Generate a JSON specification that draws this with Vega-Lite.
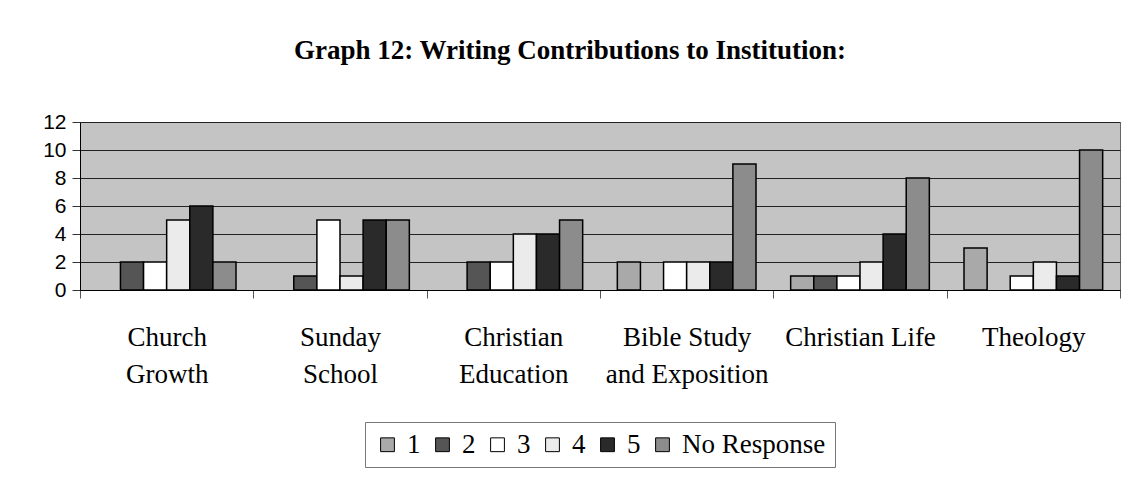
{
  "$schema": "https://vega.github.io/schema/vega-lite/v6.json",
  "width": 1040,
  "height": 168,
  "autosize": {"type": "none"},
  "padding": {"left": 80, "top": 122, "right": 22, "bottom": 189},
  "background": "white",
  "title": {
    "text": "Graph 12: Writing Contributions to Institution:",
    "font": "Liberation Serif",
    "fontSize": 27,
    "fontWeight": "bold",
    "color": "black",
    "anchor": "middle",
    "frame": "group",
    "dx": -30,
    "offset": 46
  },
  "data": {
    "values": [
      {"category": "Church Growth", "rating": "1", "count": 0},
      {"category": "Church Growth", "rating": "2", "count": 2},
      {"category": "Church Growth", "rating": "3", "count": 2},
      {"category": "Church Growth", "rating": "4", "count": 5},
      {"category": "Church Growth", "rating": "5", "count": 6},
      {"category": "Church Growth", "rating": "No Response", "count": 2},
      {"category": "Sunday School", "rating": "1", "count": 0},
      {"category": "Sunday School", "rating": "2", "count": 1},
      {"category": "Sunday School", "rating": "3", "count": 5},
      {"category": "Sunday School", "rating": "4", "count": 1},
      {"category": "Sunday School", "rating": "5", "count": 5},
      {"category": "Sunday School", "rating": "No Response", "count": 5},
      {"category": "Christian Education", "rating": "1", "count": 0},
      {"category": "Christian Education", "rating": "2", "count": 2},
      {"category": "Christian Education", "rating": "3", "count": 2},
      {"category": "Christian Education", "rating": "4", "count": 4},
      {"category": "Christian Education", "rating": "5", "count": 4},
      {"category": "Christian Education", "rating": "No Response", "count": 5},
      {"category": "Bible Study and Exposition", "rating": "1", "count": 2},
      {"category": "Bible Study and Exposition", "rating": "2", "count": 0},
      {"category": "Bible Study and Exposition", "rating": "3", "count": 2},
      {"category": "Bible Study and Exposition", "rating": "4", "count": 2},
      {"category": "Bible Study and Exposition", "rating": "5", "count": 2},
      {"category": "Bible Study and Exposition", "rating": "No Response", "count": 9},
      {"category": "Christian Life", "rating": "1", "count": 1},
      {"category": "Christian Life", "rating": "2", "count": 1},
      {"category": "Christian Life", "rating": "3", "count": 1},
      {"category": "Christian Life", "rating": "4", "count": 2},
      {"category": "Christian Life", "rating": "5", "count": 4},
      {"category": "Christian Life", "rating": "No Response", "count": 8},
      {"category": "Theology", "rating": "1", "count": 3},
      {"category": "Theology", "rating": "2", "count": 0},
      {"category": "Theology", "rating": "3", "count": 1},
      {"category": "Theology", "rating": "4", "count": 2},
      {"category": "Theology", "rating": "5", "count": 1},
      {"category": "Theology", "rating": "No Response", "count": 10}
    ]
  },
  "transform": [{"filter": "datum.count > 0"}],
  "mark": {"type": "bar", "stroke": "black", "strokeWidth": 1.5},
  "encoding": {
    "x": {
      "field": "category",
      "type": "nominal",
      "sort": ["Church Growth", "Sunday School", "Christian Education", "Bible Study and Exposition", "Christian Life", "Theology"],
      "scale": {"paddingInner": 0, "paddingOuter": 0},
      "axis": {
        "title": null,
        "labelAngle": 0,
        "tickBand": "extent",
        "tickSize": 8,
        "tickColor": "#555",
        "domainColor": "black",
        "labelFont": "Liberation Serif",
        "labelFontSize": 27,
        "labelColor": "black",
        "labelPadding": 26,
        "labelLineHeight": 37,
        "labelExpr": "datum.label == 'Church Growth' ? ['Church', 'Growth'] : datum.label == 'Sunday School' ? ['Sunday', 'School'] : datum.label == 'Christian Education' ? ['Christian', 'Education'] : datum.label == 'Bible Study and Exposition' ? ['Bible Study', 'and Exposition'] : datum.label"
      }
    },
    "xOffset": {
      "field": "rating",
      "type": "nominal",
      "sort": ["1", "2", "3", "4", "5", "No Response"],
      "scale": {"domain": ["1", "2", "3", "4", "5", "No Response"], "paddingInner": 0, "paddingOuter": 0.75}
    },
    "y": {
      "field": "count",
      "type": "quantitative",
      "scale": {"domain": [0, 12], "nice": false},
      "axis": {
        "title": null,
        "values": [0, 2, 4, 6, 8, 10, 12],
        "labelFont": "Liberation Sans",
        "labelFontSize": 21,
        "labelColor": "black",
        "labelPadding": 6,
        "tickSize": 8,
        "tickColor": "#333",
        "domainColor": "black",
        "gridColor": "#222",
        "gridWidth": 1,
        "gridOpacity": 1
      }
    },
    "color": {
      "field": "rating",
      "type": "nominal",
      "scale": {
        "domain": ["1", "2", "3", "4", "5", "No Response"],
        "range": ["#a9a9a9", "#555555", "#ffffff", "#ebebeb", "#2a2a2a", "#8c8c8c"]
      },
      "legend": {
        "title": null,
        "orient": "none",
        "legendX": 285,
        "legendY": 300,
        "direction": "horizontal",
        "symbolType": "square",
        "symbolSize": 190,
        "symbolStrokeColor": "black",
        "symbolStrokeWidth": 1,
        "symbolOpacity": 1,
        "labelFont": "Liberation Serif",
        "labelFontSize": 27,
        "labelColor": "black",
        "labelOffset": 6,
        "columnPadding": 8,
        "strokeColor": "#777",
        "padding": 9
      }
    }
  },
  "config": {
    "view": {"fill": "#c4c4c4", "stroke": "#666"},
    "axis": {"grid": true},
    "axisX": {"grid": false}
  }
}
